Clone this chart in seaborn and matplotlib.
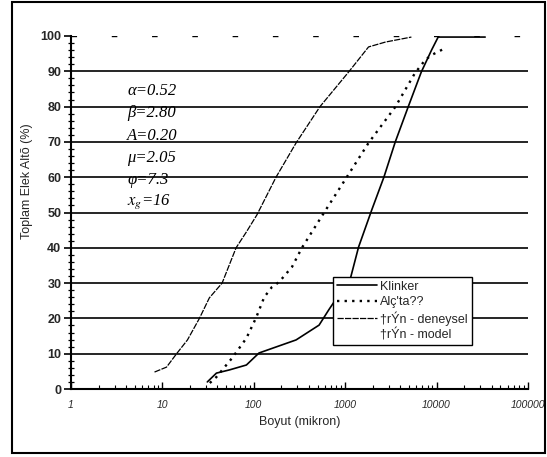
import matplotlib
matplotlib.use("Agg")
import matplotlib.pyplot as plt
import matplotlib.ticker as mticker
from matplotlib.patches import Rectangle
import seaborn as sns
import pandas as pd

# ---- data ----
klinker_x = [31, 39, 54, 83, 114, 175, 290, 518, 660, 1150, 1400, 1950, 2650, 3530, 4900, 6800, 8800, 10400, 34000]
klinker_y = [2.0, 4.5, 5.4, 6.8, 10.2, 11.9, 13.9, 18.1, 22.4, 31.7, 40.2, 50.7, 60.0, 70.0, 80.0, 89.8, 96.0, 99.7, 99.7]

alci_x = [33, 39, 58, 83, 106, 130, 158, 189, 262, 336, 585, 1010, 1800, 3530, 5800, 7500, 8800, 12500]
alci_y = [1.7, 3.4, 8.8, 14.4, 20.2, 26.0, 28.9, 30.3, 34.6, 40.0, 49.9, 59.5, 69.7, 79.9, 89.5, 93.2, 94.6, 96.6]

urun_x = [8.2, 11.1, 14.3, 18.8, 25.4, 32.6, 45, 64, 83, 108, 175, 290, 530, 1090, 1800, 2770, 5300]
urun_y = [4.8, 6.2, 10.0, 13.9, 20.0, 25.8, 30.0, 40.0, 44.5, 49.3, 60.0, 69.7, 80.0, 89.8, 96.9, 98.3, 99.7]

series_labels = ["Klinker", "Alç'ta??", "\u2020rÝn - deneysel", "\u2020rÝn - model"]
x_ticks = [1, 10, 100, 1000, 10000, 100000]
x_tick_labels = ["1", "10", "100", "1000", "10000", "100000"]
y_ticks = [0, 10, 20, 30, 40, 50, 60, 70, 80, 90, 100]
params = ["\u03b1=0.52", "\u03b2=2.80", "A=0.20", "\u03bc=2.05", "\u03c6=7.3", "$x_g$=16"]

# ---- figure ----
sns.set_theme(style="ticks")
plt.rcParams["font.family"] = ["Liberation Sans", "DejaVu Sans"]
plt.rcParams["mathtext.fontset"] = "stix"

fig = plt.figure(figsize=(5.47, 4.57), dpi=100)
fig.patch.set_facecolor("white")
ax = fig.add_axes([71 / 547, 1 - 389 / 457, (528 - 71) / 547, (389 - 36) / 457])
ax.set_facecolor("white")

df_k = pd.DataFrame({"x": klinker_x, "y": klinker_y})
df_a = pd.DataFrame({"x": alci_x, "y": alci_y})
df_u = pd.DataFrame({"x": urun_x, "y": urun_y})

sns.lineplot(data=df_k, x="x", y="y", ax=ax, color="black", lw=1.2,
             label=series_labels[0], estimator=None)
sns.lineplot(data=df_a, x="x", y="y", ax=ax, color="black", lw=1.7,
             linestyle=(0, (1, 2.2)), label=series_labels[1], estimator=None)
sns.lineplot(data=df_u, x="x", y="y", ax=ax, color="black", lw=0.9,
             linestyle=(0, (5, 1)), label=series_labels[2], estimator=None)
sns.lineplot(data=df_u, x="x", y="y", ax=ax, color="black", lw=0,
             label=series_labels[3], estimator=None)

ax.set_xscale("log")
ax.set_xlim(1, 100000)
ax.set_ylim(0, 100)

# grid lines
for yv in y_ticks[1:-1]:
    ax.axhline(yv, color="black", lw=1.2, zorder=0.5)
ax.axhline(100, color="black", lw=1.0, linestyle=(0, (4, 25)), zorder=0.5)

# spines
sns.despine(ax=ax, top=True, right=True)
ax.spines["left"].set_linewidth(1.5)
ax.spines["bottom"].set_linewidth(1.5)
ax.spines["left"].set_color("black")
ax.spines["bottom"].set_color("black")

# ticks
ax.set_yticks(y_ticks)
ax.set_yticklabels([str(v) for v in y_ticks], fontsize=9, fontweight="bold")
ax.yaxis.set_minor_locator(mticker.MultipleLocator(2))
ax.tick_params(axis="y", which="major", direction="out", length=5, width=1.2, color="black", pad=2)
ax.tick_params(axis="y", which="minor", direction="inout", length=4, width=0.9, color="black")

ax.set_xticks(x_ticks)
ax.set_xticklabels(x_tick_labels, fontsize=7.5, fontstyle="italic")
ax.xaxis.set_minor_locator(mticker.LogLocator(base=10, subs=range(2, 10)))
ax.xaxis.set_minor_formatter(mticker.NullFormatter())
ax.tick_params(axis="x", which="major", direction="in", length=5, width=1.0, color="black", pad=8)
ax.tick_params(axis="x", which="minor", direction="in", length=3, width=0.8, color="black")

ax.set_xlabel("Boyut (mikron)", fontsize=9, labelpad=4)
ax.set_ylabel("Toplam Elek Altõ (%)", fontsize=9)
ax.yaxis.set_label_coords(-0.083, 0.59)

# parameter annotations
ys = [0.844, 0.782, 0.717, 0.654, 0.592, 0.530]
for txt, yy in zip(params, ys):
    ax.text(0.123, yy, txt, transform=ax.transAxes, fontsize=12,
            family=["Liberation Serif", "DejaVu Serif"], style="italic",
            va="center", ha="left", color="black")

# legend
leg = ax.legend(loc="upper left", bbox_to_anchor=(0.573, 0.317), fontsize=9,
                frameon=True, fancybox=False, framealpha=1, edgecolor="black",
                handlelength=3.2, handletextpad=0.3, labelspacing=0.25,
                borderpad=0.3, borderaxespad=0)
leg.get_frame().set_linewidth(1.0)

# figure frame (scan border)
fig.patches.append(Rectangle((12 / 547, 4 / 457), (545 - 12) / 547, (455 - 4) / 457,
                             transform=fig.transFigure, fill=False,
                             edgecolor="black", lw=1.5))

fig.savefig("out.png", dpi=100)
